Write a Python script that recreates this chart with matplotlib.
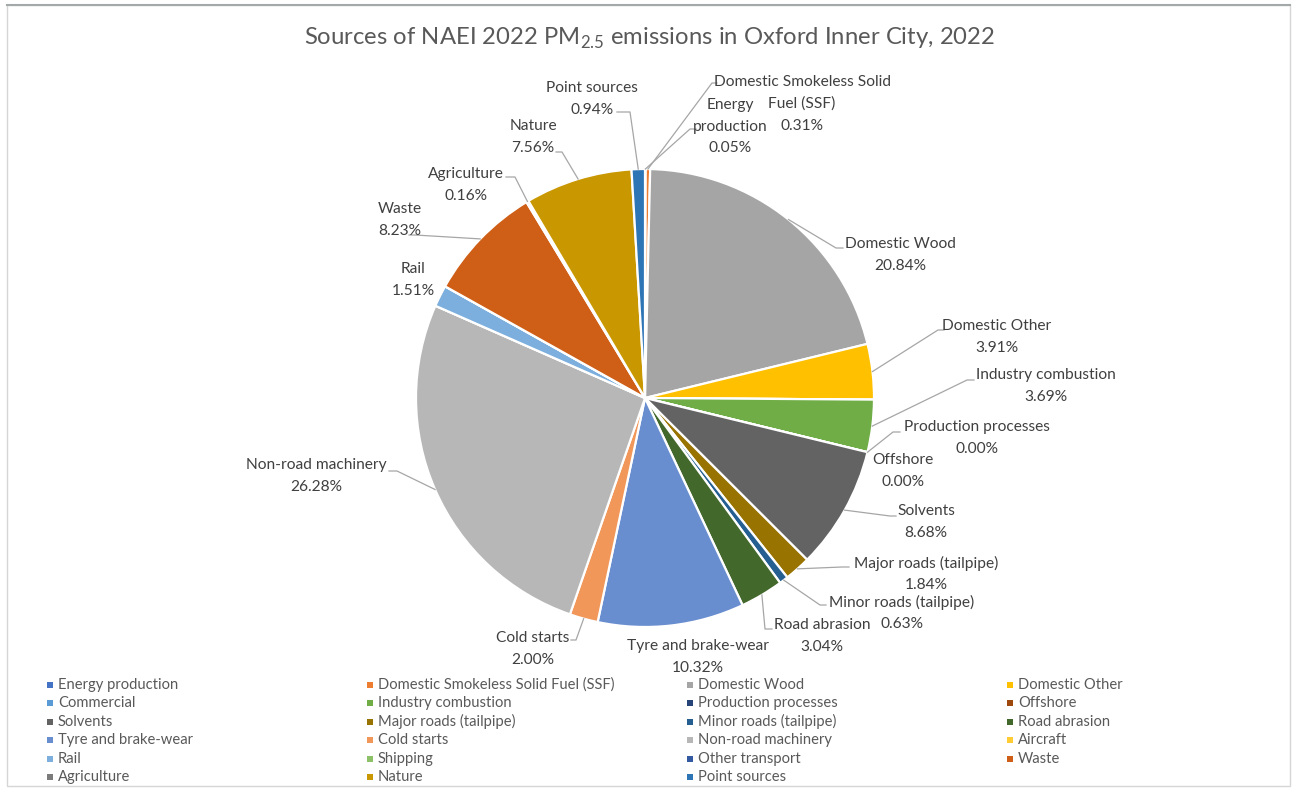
import matplotlib

matplotlib.use("Agg")
import matplotlib.pyplot as plt
from matplotlib.patches import Rectangle
import numpy as np

plt.rcParams["font.family"] = ["Lato", "DejaVu Sans"]
plt.rcParams["mathtext.fontset"] = "custom"
plt.rcParams["mathtext.rm"] = "Lato"

# --- data (share of PM2.5 emissions, %) -------------------------------------
categories = [
    "Energy production", "Domestic Smokeless Solid Fuel (SSF)", "Domestic Wood",
    "Domestic Other", "Commercial", "Industry combustion", "Production processes",
    "Offshore", "Solvents", "Major roads (tailpipe)", "Minor roads (tailpipe)",
    "Road abrasion", "Tyre and brake-wear", "Cold starts", "Non-road machinery",
    "Aircraft", "Rail", "Shipping", "Other transport", "Waste", "Agriculture",
    "Nature", "Point sources",
]
shares = [
    0.05, 0.31, 20.84,
    3.91, 0.0, 3.69, 0.00,
    0.00, 8.68, 1.84, 0.63,
    3.04, 10.32, 2.00, 26.28,
    0.0, 1.51, 0.0, 0.0, 8.23, 0.16,
    7.56, 0.94,
]
colors = [
    "#4472C4", "#ED7D31", "#A5A5A5",
    "#FFC000", "#5B9BD5", "#70AD47", "#264478",
    "#9E480E", "#636363", "#997300", "#255E91",
    "#43682B", "#698ED0", "#F1975A", "#B7B7B7",
    "#FFCD33", "#7CAFDD", "#8CC168", "#335AA1", "#CF5E16", "#7B7B7B",
    "#C99700", "#2E75B6",
]
# categories without a data label in the original (blank series)
unlabelled = {"Commercial", "Aircraft", "Shipping", "Other transport"}

title = "Sources of NAEI 2022 PM$_{\\mathrm{2.5}}$ emissions in Oxford Inner City, 2022"

# --- layout (pixel coords, y down) ------------------------------------------
W, H = 1296, 792
LINE_H = 21.5
label_names = {
    "Energy production": "Energy\nproduction",
    "Domestic Smokeless Solid Fuel (SSF)": "Domestic Smokeless Solid\nFuel (SSF)",
}
# text centre, leader elbow, leader end (None = no leader)
label_layout = {
    "Energy production": ((730, 127), (690, 129), (696, 129)),
    "Domestic Smokeless Solid Fuel (SSF)": ((802, 104), (712, 83), (717, 83)),
    "Domestic Wood": ((900, 255), (836, 248), (843, 248)),
    "Domestic Other": ((997, 337), (938, 330), (944, 330)),
    "Industry combustion": ((1046, 386), (967, 380), (974, 380)),
    "Production processes": ((977, 438), (893, 432), (900, 432)),
    "Offshore": ((903, 471), None, None),
    "Solvents": ((926, 522), (890, 516), (896, 516)),
    "Major roads (tailpipe)": ((926, 574), (842, 567), (849, 567)),
    "Minor roads (tailpipe)": ((902, 613), (820, 605), (826, 605)),
    "Road abrasion": ((822, 636), (765, 629), (772, 629)),
    "Tyre and brake-wear": ((698, 657), None, None),
    "Cold starts": ((533, 649), (576, 640), (571, 640)),
    "Non-road machinery": ((316, 476), (397, 471), (389, 471)),
    "Rail": ((413, 280), None, None),
    "Waste": ((400, 220), (415, 235), (409, 235)),
    "Agriculture": ((466, 185), (515, 177), (506, 177)),
    "Nature": ((533, 137), (562, 152), (556, 152)),
    "Point sources": ((592, 99), (630, 112), (617, 112)),
}

fig = plt.figure(figsize=(W / 100, H / 100), dpi=100)
ax = fig.add_axes([0, 0, 1, 1])

cx, cy = 645, H - 398
R = 229
wedges, _ = ax.pie(
    shares, colors=colors, startangle=90, counterclock=False,
    center=(cx, cy), radius=R,
    wedgeprops=dict(edgecolor="white", linewidth=1.6),
)
ax.set_xlim(0, W)
ax.set_ylim(0, H)
ax.set_aspect("equal")
ax.axis("off")

for cat, val, w in zip(categories, shares, wedges):
    if cat in unlabelled:
        continue
    (tx, ty), elbow, end = label_layout[cat]
    if elbow is not None:
        mid = np.deg2rad((w.theta1 + w.theta2) / 2)
        ex, ey = cx + R * np.cos(mid), cy + R * np.sin(mid)
        ax.plot([ex, elbow[0], end[0]], [ey, H - elbow[1], H - end[1]],
                color="#a6a6a6", lw=0.9, zorder=3)
    lines = label_names.get(cat, cat).split("\n") + [f"{val:.2f}%"]
    # one text per line, as Excel stacks them
    for k, line in enumerate(lines):
        ly = ty + (k - (len(lines) - 1) / 2) * LINE_H
        ax.text(tx, H - ly, line, ha="center", va="center", fontsize=11.2,
                color="#404040", zorder=4)

ax.text(650, H - 38, title, ha="center", va="center", fontsize=17.2,
        color="#595959")

# legend, row-major like the original, 4 columns
for i, (cat, col) in enumerate(zip(categories, colors)):
    r, c = divmod(i, 4)
    lx = 58 + 320 * c
    ly = 685 + 18.4 * r
    ax.add_patch(Rectangle((lx - 11, H - ly - 3), 6, 6, facecolor=col,
                           edgecolor="none"))
    ax.text(lx, H - ly, cat, ha="left", va="center", fontsize=10.6,
            color="#595959")

# chart-area border
ax.add_patch(Rectangle((7, H - 786), 1283, 781, fill=False,
                       edgecolor="#d6d6d6", lw=1))
ax.plot([7, 1290], [H - 5, H - 5], color="#a3a8a8", lw=1.5)

fig.savefig("out.png", dpi=100)
